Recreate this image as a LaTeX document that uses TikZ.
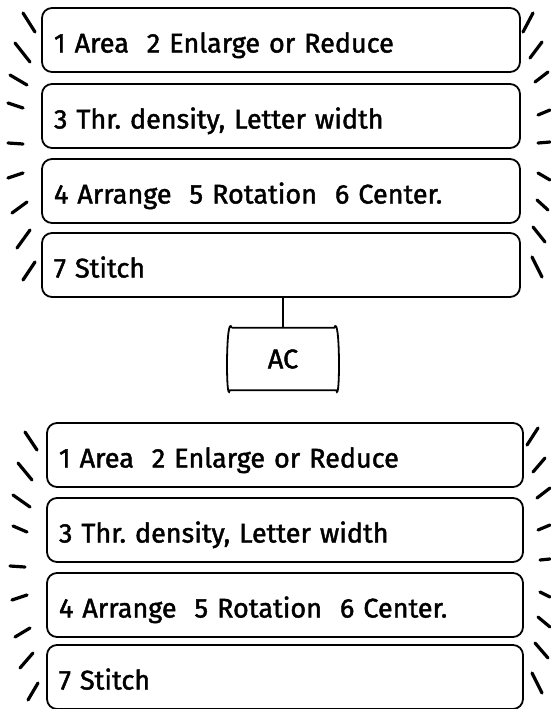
\documentclass[tikz,border=0pt]{standalone}
\usepackage{fontspec}
\setmainfont{Fira Sans}
\newfontfamily\lblfont{Fira Sans}[BoldFont=Fira Sans,BoldFeatures={FakeBold=1.6}]
\frenchspacing
\begin{document}
\begin{tikzpicture}[x=1pt,y=-1pt,
  lbl/.style={font=\fontsize{27}{30}\lblfont\bfseries},
  menubox/.style={draw,line width=1.8pt,rounded corners=10pt,minimum height=64pt,
    text width=#1,align=left,inner xsep=12pt,text height=29pt,text depth=4pt,lbl,anchor=center},
  ray/.style={line width=3.2pt,line cap=round},
  conn/.style={line width=1.8pt}]
\useasboundingbox (0,0) rectangle (550,709);
% top panel
\node[menubox=454pt] (t1) at (281,40) {1 Area\ \ 2 Enlarge or Reduce};
\node[menubox=454pt] (t2) at (281,116) {3 Thr. density, Letter width};
\node[menubox=454pt] (t3) at (281,191) {4 Arrange\ \ 5 Rotation\ \ 6 Center.};
\node[menubox=454pt] (t4) at (281,265) {7 Stitch};
% AC box
\node[lbl,minimum width=112pt,minimum height=62pt] (ac) at (283,359) {AC};
\draw[conn] (ac.north west) ++(5,0) -- ([xshift=-5pt]ac.north east)
  .. controls ([xshift=1pt,yshift=16pt]ac.north east) and ([xshift=1pt,yshift=-16pt]ac.south east) .. ([xshift=-3pt]ac.south east)
  -- ([xshift=3pt]ac.south west)
  .. controls ([xshift=-1pt,yshift=-16pt]ac.south west) and ([xshift=-1pt,yshift=16pt]ac.north west) .. ([xshift=5pt]ac.north west);
\draw[conn] (t4.south -| ac.north) -- (ac.north);
% bottom panel
\node[menubox=452pt] (b1) at (285,455) {1 Area\ \ 2 Enlarge or Reduce};
\node[menubox=452pt] (b2) at (285,530) {3 Thr. density, Letter width};
\node[menubox=452pt] (b3) at (285,605) {4 Arrange\ \ 5 Rotation\ \ 6 Center.};
\node[menubox=452pt] (b4) at (285,677) {7 Stitch};
% rays
\foreach \a/\b/\c/\d in {23/13/35/32, 15/43/30/62, 10/75/27/85, 8/103/23/108, 8/143/23/144,
  8/178/23/173, 12/213/27/202, 17/248/30/230, 23/280/35/262,
  523/32/533/13, 530/58/542/42, 535/82/548/72, 538/115/550/110, 538/143/550/142,
  538/173/550/180, 537/200/548/210, 533/227/545/242, 532/257/542/277,
  25/432/37/450, 18/463/32/480, 13/495/30/507, 13/526/27/532, 10/566/25/567,
  12/600/27/595, 15/637/30/628, 20/668/33/653, 28/700/38/683,
  527/445/538/428, 533/472/545/458, 537/498/550/488, 538/530/550/525, 540/560/550/559,
  540/592/550/597, 538/617/550/627, 535/643/548/658, 532/673/542/693}
  \draw[ray] (\a,\b) -- (\c,\d);
\end{tikzpicture}
\end{document}
